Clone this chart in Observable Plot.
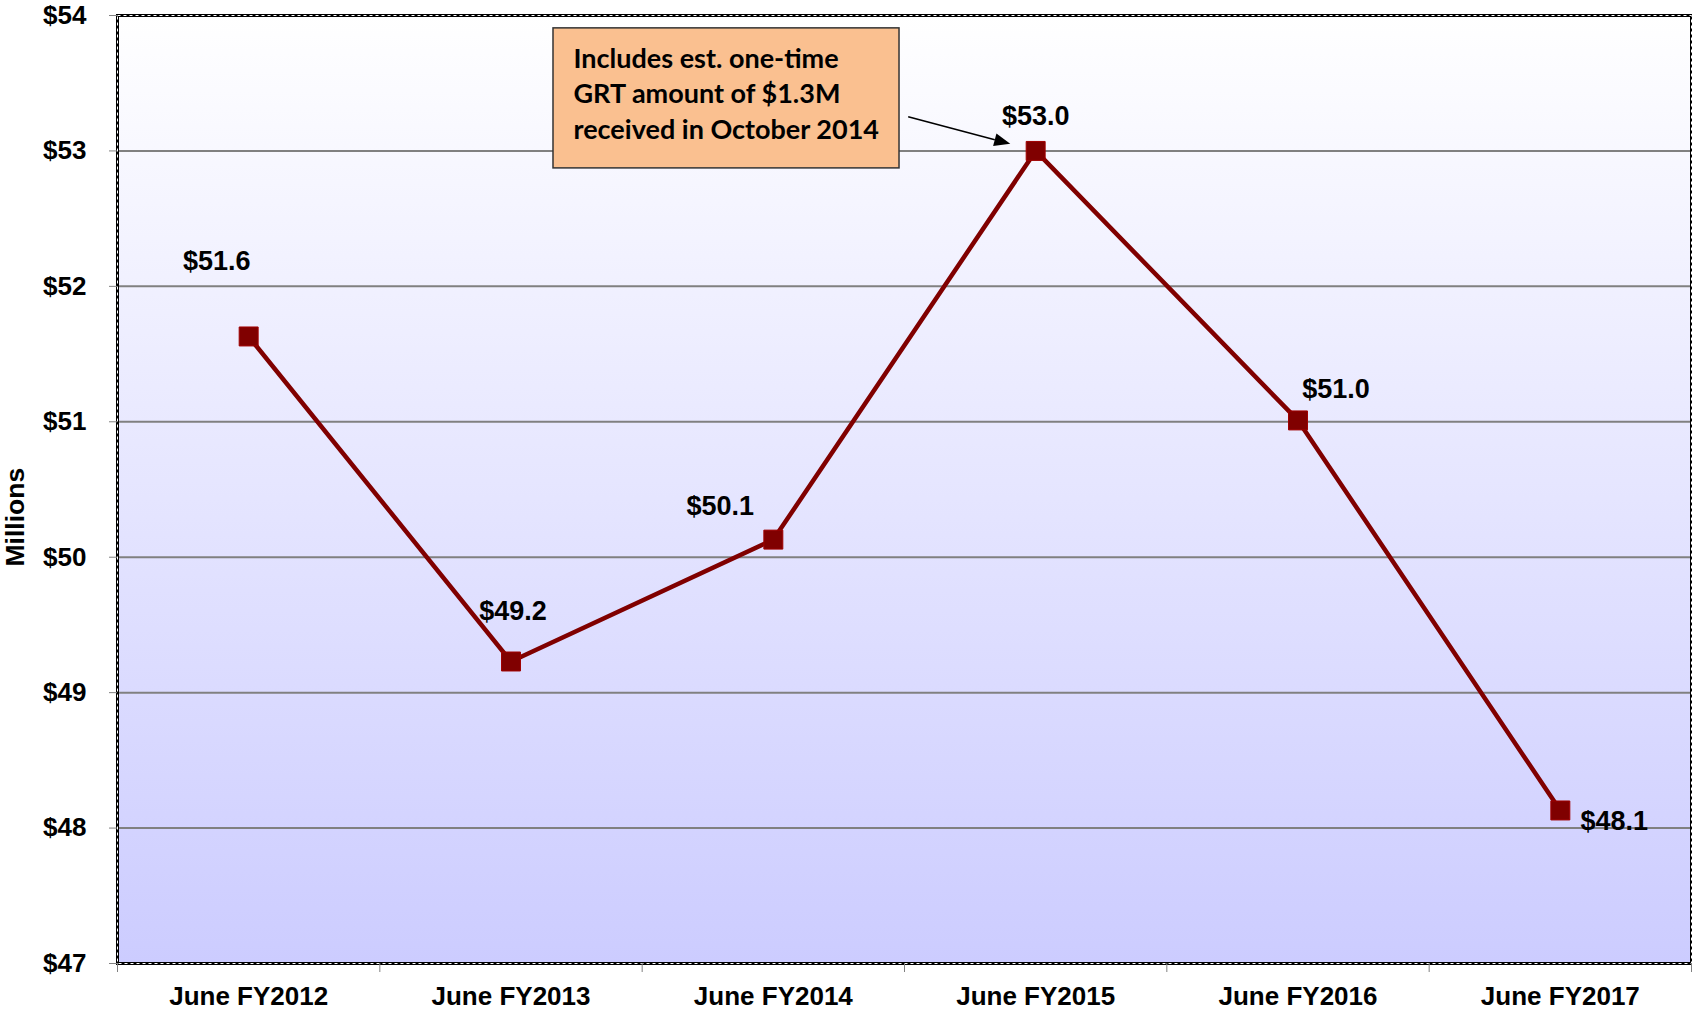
<!DOCTYPE html>
<html><head><meta charset="utf-8">
<script src="https://cdn.jsdelivr.net/npm/d3@7"></script>
<script src="https://cdn.jsdelivr.net/npm/@observablehq/plot@0.6"></script>
<style>body{margin:0;background:#fff;} svg{display:block;}</style>
</head><body><div id="chart"></div>
<script>
const categories = ["June FY2012", "June FY2013", "June FY2014", "June FY2015", "June FY2016", "June FY2017"];
const values = [51.63, 49.23, 50.13, 53.0, 51.01, 48.13];
const yTicks = [47, 48, 49, 50, 51, 52, 53, 54];
const gridValues = [48, 49, 50, 51, 52, 53];
const annotationText = ["Includes est. one-time", "GRT amount of $1.3M", "received in October 2014"];
const annotationBox = [{x1: 1.162, x2: 2.481, y1: 52.871, y2: 53.905}];
const annotationArrow = [{x1: 2.516, y1: 53.248, x2: 2.905, y2: 53.049}];
const labelOffsets = [[-32, -75], [2, -50], [-53, -33], [0, -35], [38, -31], [54, 11]];

const data = categories.map((c, i) => ({i, category: c, value: values[i]}));
const boundaries = d3.range(categories.length + 1).map(k => k - 0.5);

const background = (index, scales, values, dims) => {
  const g = d3.create("svg:g");
  const grad = g.append("defs").append("linearGradient")
    .attr("id", "bggrad").attr("x1", 0).attr("y1", 0).attr("x2", 0).attr("y2", 1);
  grad.append("stop").attr("offset", "0%").attr("stop-color", "#ffffff");
  grad.append("stop").attr("offset", "100%").attr("stop-color", "#ccccff");
  g.append("rect")
    .attr("x", dims.marginLeft).attr("y", dims.marginTop)
    .attr("width", dims.width - dims.marginLeft - dims.marginRight)
    .attr("height", dims.height - dims.marginTop - dims.marginBottom)
    .attr("fill", "url(#bggrad)");
  return g.node();
};

const arrow = (index, scales) => {
  const a = annotationArrow[0];
  const x1 = scales.x(a.x1), y1 = scales.y(a.y1), x2 = scales.x(a.x2), y2 = scales.y(a.y2);
  const ang = Math.atan2(y2 - y1, x2 - x1);
  const hl = 16, hw = 6.5;
  const bx = x2 - hl * Math.cos(ang), by = y2 - hl * Math.sin(ang);
  const g = d3.create("svg:g");
  g.append("line").attr("x1", x1).attr("y1", y1).attr("x2", bx).attr("y2", by)
    .attr("stroke", "black").attr("stroke-width", 1.6);
  g.append("path")
    .attr("d", `M${x2},${y2}L${bx + hw * Math.sin(ang)},${by - hw * Math.cos(ang)}L${bx - hw * Math.sin(ang)},${by + hw * Math.cos(ang)}Z`)
    .attr("fill", "black");
  return g.node();
};

const labelMarks = data.map((d, k) => Plot.text([d], {
  x: "i", y: "value", text: e => "$" + e.value.toFixed(1),
  dx: labelOffsets[k][0], dy: labelOffsets[k][1],
  fontSize: 27, fontWeight: "bold", fill: "black"
}));

const chart = Plot.plot({
  width: 1692, height: 1012,
  marginLeft: 117, marginRight: 1, marginTop: 15, marginBottom: 49,
  x: {domain: [-0.5, 5.5]},
  y: {domain: [47, 54]},
  style: {fontFamily: "'Liberation Sans', Arial, sans-serif", fontWeight: "bold", fontSize: "26px", color: "black", background: "white", overflow: "visible"},
  marks: [
    background,
    Plot.ruleY(gridValues, {stroke: "#808080", strokeWidth: 2}),
    Plot.frame({stroke: "black", strokeWidth: 3}),
    Plot.frame({stroke: "white", strokeWidth: 1, strokeDasharray: "3,3"}),
    Plot.axisY(yTicks, {tickSize: 8, tickPadding: 23, tickFormat: d => "$" + d, stroke: "#808080", fill: "black", fontSize: 26, fontWeight: "bold", label: null}),
    Plot.axisX(boundaries, {tickSize: 9, tickFormat: () => "", stroke: "#808080", label: null}),
    Plot.axisX(d3.range(categories.length), {tickSize: 0, tickPadding: 23, tickFormat: i => categories[i], fill: "black", fontSize: 26, fontWeight: "bold", label: null}),
    Plot.text(["Millions"], {text: d => d, frameAnchor: "left", dx: -102, dy: 77, rotate: -90, fontSize: 26.5, fontWeight: "bold", fill: "black"}),
    Plot.line(data, {x: "i", y: "value", stroke: "#800000", strokeWidth: 4.5}),
    Plot.dot(data, {x: "i", y: "value", symbol: "square", r: 10.7, fill: "#800000", stroke: "#a00000", strokeWidth: 1}),
    ...labelMarks,
    Plot.rect(annotationBox, {x1: "x1", x2: "x2", y1: "y1", y2: "y2", fill: "#FAC090", stroke: "#333333", strokeWidth: 1.5}),
    Plot.text(annotationBox, {x: "x1", y: "y2", text: () => annotationText.join("\n"), dx: 20, dy: 14, textAnchor: "start", lineAnchor: "top", lineHeight: 1.32, fontFamily: "Lato, 'Open Sans', sans-serif", fontSize: 27, fontWeight: "bold", fill: "black"}),
    arrow
  ]
});
document.getElementById("chart").appendChild(chart);
</script>
</body></html>
